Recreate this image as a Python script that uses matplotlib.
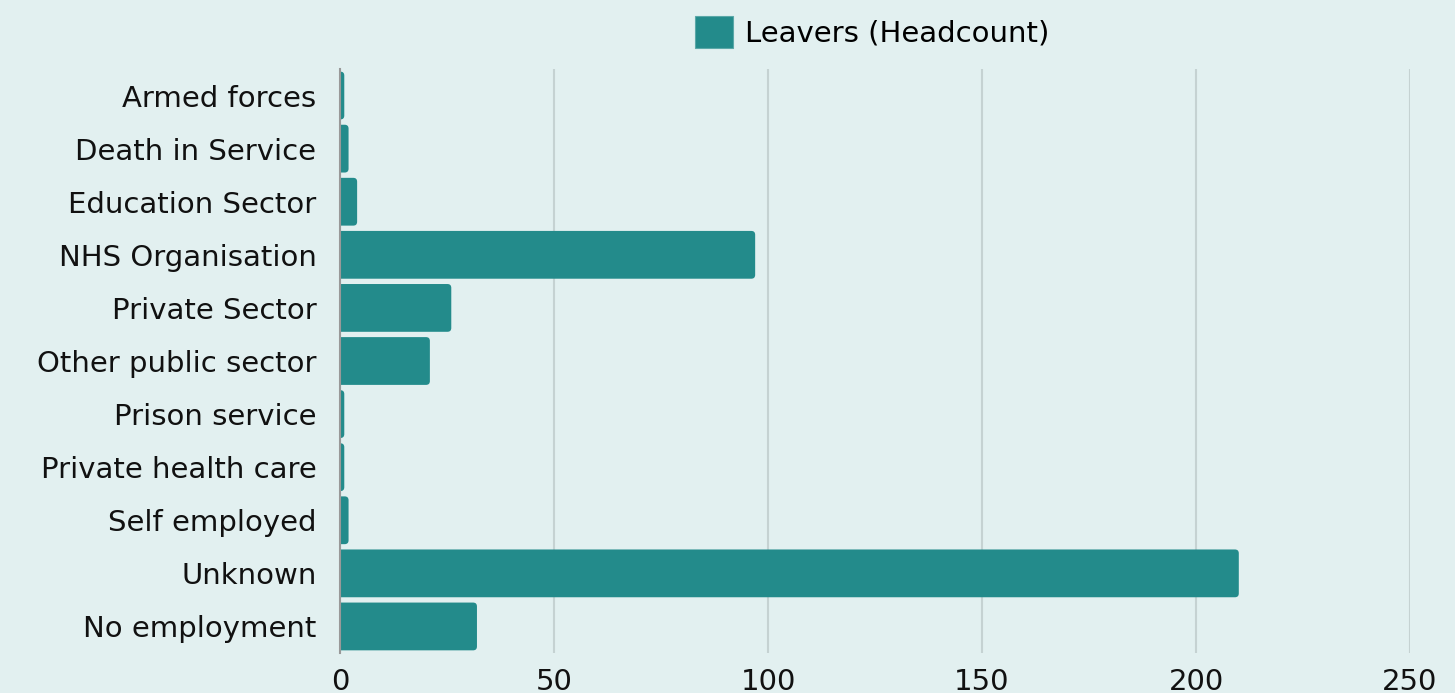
import matplotlib
matplotlib.use("Agg")
import matplotlib.pyplot as plt
from matplotlib.patches import FancyBboxPatch, Patch

# leavers by destination
destinations = [
    "Armed forces",
    "Death in Service",
    "Education Sector",
    "NHS Organisation",
    "Private Sector",
    "Other public sector",
    "Prison service",
    "Private health care",
    "Self employed",
    "Unknown",
    "No employment",
]
leavers = [1, 2, 4, 97, 26, 21, 1, 1, 2, 210, 32]
x_ticks = [0, 50, 100, 150, 200, 250]

bg = "#e2f0f0"
bar_color = "#238b8b"

plt.rcParams["font.family"] = ["DejaVu Sans"]

W, H = 1455, 693
fig = plt.figure(figsize=(W / 100, H / 100), dpi=100, facecolor=bg)
ax = fig.add_axes([340 / W, 1 - 653 / H, (1410 - 340) / W, (653 - 69) / H])
ax.set_facecolor(bg)

ypos = list(range(len(destinations)))
bars = ax.barh(ypos, leavers, height=0.9, color="none", zorder=3)

ax.set_xlim(0, 250)
ax.set_ylim(len(destinations) - 0.5, -0.5)

# swap plain rectangles for ones with rounded ends
px_x = (1410 - 340) / 250
px_y = (653 - 69) / len(destinations)
for b in bars:
    x0, y0, w, h = b.get_x(), b.get_y(), b.get_width(), b.get_height()
    r = min(0.9, (w + 2) / 2)
    ax.add_patch(FancyBboxPatch((x0 - 2, y0), w + 2, h,
                                boxstyle=f"round,pad=0,rounding_size={r}",
                                mutation_aspect=px_x / px_y,
                                facecolor=bar_color, edgecolor="none", zorder=3))

ax.set_yticks(ypos)
ax.set_yticklabels(destinations, fontsize=21)
ax.set_xticks(x_ticks)
ax.set_xticklabels([str(t) for t in x_ticks], fontsize=21)
ax.tick_params(axis="both", length=0, colors="#111111")
ax.tick_params(axis="y", pad=17)
ax.tick_params(axis="x", pad=11)

ax.grid(axis="x", color="#c5d2d2", linewidth=1.5, zorder=0)
for side in ["top", "right", "bottom"]:
    ax.spines[side].set_visible(False)
ax.spines["left"].set_color("#999999")
ax.spines["left"].set_linewidth(1.5)
ax.spines["left"].set_zorder(4)

fig.legend(
    handles=[Patch(facecolor=bar_color, edgecolor="#5aa8a8", linewidth=0.8)],
    labels=["Leavers (Headcount)"],
    loc="upper center",
    bbox_to_anchor=(872 / W, 1.0 + 10 / H),
    frameon=False,
    fontsize=21,
    handlelength=1.3,
    handleheight=1.3,
    handletextpad=0.4,
)

fig.savefig("out.png", dpi=100, facecolor=bg)
